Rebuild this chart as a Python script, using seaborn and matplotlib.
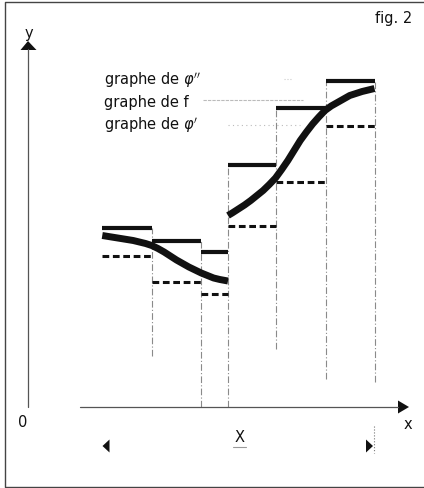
import numpy as np
import pandas as pd
import matplotlib
matplotlib.use('Agg')
import matplotlib.pyplot as plt
import seaborn as sns

# partition points of the interval X and the step heights
partition = [1.5, 2.5, 3.5, 4.04, 5.02, 6.02, 7.0]
phi_upper = [3.58, 3.32, 3.10, 4.84, 5.98, 6.52]   # graphe de phi''
phi_lower = [3.02, 2.50, 2.26, 3.62, 4.50, 5.62]   # graphe de phi'

# graph of f, two pieces (jump at x = 4.04)
f_left_x = [1.5, 1.625, 1.75, 1.875, 2.0, 2.125, 2.25, 2.375, 2.5, 2.625, 2.75,
            2.875, 3.0, 3.125, 3.25, 3.375, 3.5, 3.625, 3.75, 3.875, 4.04]
f_left_y = [3.43, 3.41, 3.39, 3.37, 3.35, 3.33, 3.30, 3.27, 3.23, 3.17, 3.10,
            3.02, 2.94, 2.87, 2.80, 2.74, 2.68, 2.63, 2.58, 2.55, 2.52]
f_right_x = [4.04, 4.125, 4.25, 4.375, 4.5, 4.625, 4.75, 4.875, 5.0, 5.125, 5.25,
             5.375, 5.5, 5.625, 5.75, 5.875, 6.0, 6.125, 6.25, 6.375, 6.5,
             6.625, 6.75, 6.875, 7.0]
f_right_y = [3.83, 3.88, 3.96, 4.04, 4.13, 4.23, 4.33, 4.45, 4.58, 4.75, 4.93,
             5.13, 5.33, 5.50, 5.66, 5.80, 5.93, 6.02, 6.09, 6.16, 6.23,
             6.27, 6.31, 6.34, 6.37]

# faded guide lines below the steps end at these heights
guide_bottom = [1.02, 0.0, 0.0, 1.16, 0.56, 0.5]

sns.set_style('white')
plt.rcParams['font.family'] = ['DejaVu Sans']
plt.rcParams['mathtext.fontset'] = 'dejavusans'

fig = plt.figure(figsize=(4.24, 4.89), dpi=100)
ax = fig.add_axes([0, 0, 1, 1])
ax.axis('off')
ax.set_xlim(-28 / 49.5, 396 / 49.5)
ax.set_ylim(-81 / 50, 408 / 50)

def px(v):
    return (v - 28) / 49.5

def py(v):
    return (408 - v) / 50

ink = '#111111'

# step functions as segments
rows = []
for i in range(len(phi_upper)):
    for xv in (partition[i], partition[i + 1]):
        rows.append({'seg': i, 'x': xv, 'upper': phi_upper[i], 'lower': phi_lower[i]})
steps = pd.DataFrame(rows)

sns.lineplot(data=steps, x='x', y='upper', units='seg', estimator=None,
             color=ink, lw=3.0, ax=ax, solid_capstyle='butt')
sns.lineplot(data=steps, x='x', y='lower', units='seg', estimator=None,
             color=ink, lw=2.2, ax=ax)
for line in ax.lines[-len(phi_lower):]:
    line.set_dashes((2.2, 1.2))
    line.set_dash_capstyle('butt')

# graph of f
curve = pd.DataFrame({
    'x': f_left_x + f_right_x,
    'y': f_left_y + f_right_y,
    'piece': [0] * len(f_left_x) + [1] * len(f_right_x),
})
sns.lineplot(data=curve, x='x', y='y', units='piece', estimator=None,
             color=ink, lw=5.0, ax=ax, solid_capstyle='butt',
             solid_joinstyle='round')

# faded vertical guides at the partition points
n = len(phi_upper)
for i, (xv, bot) in enumerate(zip(partition[1:], guide_bottom)):
    top = max(phi_upper[i], phi_upper[min(i + 1, n - 1)])
    ax.plot([xv, xv], [bot, top], color='#8a8a8a', lw=0.8,
            ls=(0, (6, 2, 1, 2)), zorder=1)

# axes
axis_col = '#555555'
ax.plot([0, 0], [0, py(50)], color=axis_col, lw=0.9)
ax.plot([px(80), px(398)], [0, 0], color=axis_col, lw=0.9)
ax.fill([0, px(20.5), px(36.5)], [py(42), py(51), py(51)], color=ink, lw=0)
ax.fill([px(409), px(398), px(398)], [0, py(401.5), py(414.5)], color=ink, lw=0)

# interval X
ax.fill([px(102.5), px(109.5), px(109.5)], [py(447), py(440.5), py(453.5)], color=ink, lw=0)
ax.fill([px(373), px(366), px(366)], [py(447), py(440.5), py(453.5)], color=ink, lw=0)
ax.plot([px(373.5), px(373.5)], [py(427), py(454)], color='#777777', lw=0.8, ls=':')
ax.plot([px(233), px(246)], [py(447.5), py(447.5)], color='#999999', lw=0.8)

# legend leader lines (faded)
ax.plot([px(203), px(303)], [py(101), py(101)], color='#bbbbbb', lw=0.8, ls=(0, (3, 1)))
ax.plot([px(228), px(300)], [py(126), py(126)], color='#bbbbbb', lw=0.8, ls=(0, (1, 3)))
ax.plot([px(284), px(292)], [py(80), py(80)], color='#cccccc', lw=0.8, ls=':')

# texts
fs = 10.5
ax.text(px(104), py(80), "graphe de $\\varphi''$", fontsize=fs, va='center', ha='left', color=ink)
ax.text(px(104), py(102), "graphe de f", fontsize=fs, va='center', ha='left', color=ink)
ax.text(px(104), py(125), "graphe de $\\varphi'$", fontsize=fs, va='center', ha='left', color=ink)
ax.text(px(412), py(18), "fig. 2", fontsize=fs, va='center', ha='right', color=ink)
ax.text(px(29), py(33), "y", fontsize=fs, va='center', ha='center', color=ink)
ax.text(px(408), py(425), "x", fontsize=fs, va='center', ha='center', color=ink)
ax.text(px(23), py(423), "0", fontsize=fs, va='center', ha='center', color=ink)
ax.text(px(239.5), py(438), "X", fontsize=fs, va='center', ha='center', color=ink)

# frame around the figure (open on the right)
ax.plot([px(424), px(4.5), px(4.5), px(424)],
        [py(3), py(3), py(487.5), py(487.5)], color='#444444', lw=1.0,
        clip_on=False)

fig.savefig('out.png', dpi=100)
